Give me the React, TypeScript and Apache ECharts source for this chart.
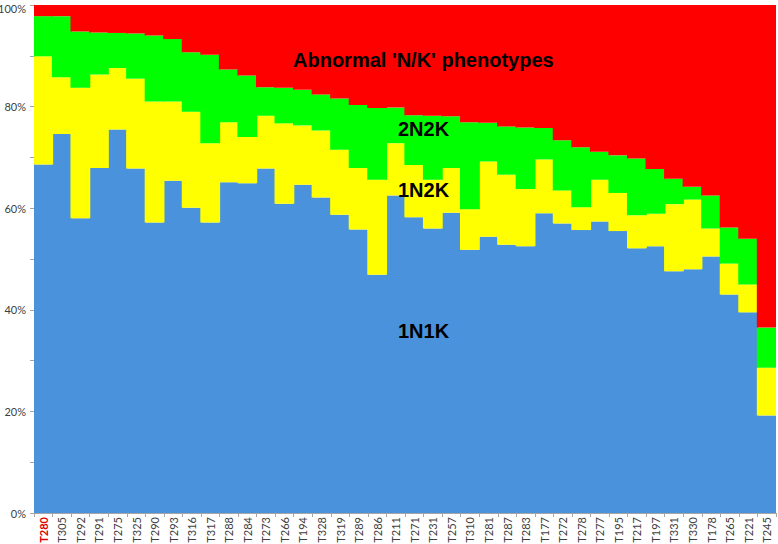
import React, { useEffect, useRef } from "react";
import * as echarts from "echarts";

const categories = [
  "T280", "T305", "T292", "T291", "T275", "T325", "T290", "T293", "T316", "T317",
  "T288", "T284", "T273", "T266", "T194", "T328", "T319", "T289", "T286", "T211",
  "T271", "T231", "T257", "T310", "T281", "T287", "T283", "T177", "T272", "T278",
  "T277", "T195", "T217", "T197", "T331", "T330", "T178", "T265", "T221", "T245",
];

const s1N1K = [
  68.6, 74.6, 58.0, 67.9, 75.5, 67.8, 57.2, 65.4, 60.1, 57.2,
  65.1, 64.9, 67.8, 60.9, 64.6, 62.1, 58.7, 55.8, 46.9, 62.5,
  58.2, 56.0, 59.1, 51.8, 54.4, 52.8, 52.5, 59.0, 57.0, 55.7,
  57.4, 55.5, 52.1, 52.5, 47.6, 48.0, 50.5, 43.0, 39.5, 19.2,
];

const s1N2K = [
  21.3, 11.2, 25.7, 18.4, 12.1, 17.7, 23.8, 15.6, 18.9, 15.6,
  11.8, 9.1, 10.4, 15.8, 11.7, 13.2, 12.8, 12.1, 18.7, 10.3,
  10.3, 9.6, 8.8, 8.0, 14.8, 13.8, 11.3, 10.6, 6.5, 4.5,
  8.2, 7.5, 6.5, 6.4, 13.2, 13.7, 5.5, 6.1, 5.5, 9.4,
];

const s2N2K = [
  7.9, 12.0, 11.1, 8.3, 6.9, 8.9, 13.0, 12.3, 11.7, 17.4,
  10.4, 12.1, 5.6, 7.0, 7.0, 7.1, 10.1, 12.4, 14.1, 7.0,
  9.8, 12.6, 10.2, 17.1, 7.6, 9.5, 12.1, 6.2, 9.9, 11.8,
  5.5, 7.4, 11.2, 8.8, 5.0, 2.5, 6.5, 7.1, 9.0, 7.9,
];

const sAbnormal = [
  2.2, 2.2, 5.2, 5.4, 5.5, 5.6, 6.0, 6.7, 9.3, 9.8,
  12.7, 13.9, 16.2, 16.3, 16.7, 17.6, 18.4, 19.7, 20.3, 20.2,
  21.7, 21.8, 21.9, 23.1, 23.2, 23.9, 24.1, 24.2, 26.6, 28.0,
  28.9, 29.6, 30.2, 32.3, 34.2, 35.8, 37.5, 43.8, 46.0, 63.5,
];

const highlightCategory = "T280";
const yMax = 100;

const annotations = [
  { text: "Abnormal 'N/K' phenotypes", x: 293, y: 61 },
  { text: "2N2K", x: 398, y: 130 },
  { text: "1N2K", x: 398, y: 191 },
  { text: "1N1K", x: 398, y: 332 },
];

export default function App() {
  const ref = useRef<HTMLDivElement>(null);

  useEffect(() => {
    if (!ref.current) return;
    const chart = echarts.init(ref.current, undefined, { renderer: "svg" });
    const mk = (name: string, data: number[], color: string) => ({
      type: "bar" as const,
      name,
      data,
      stack: "total",
      barWidth: 19.8,
      barGap: "0%",
      emphasis: { disabled: true },
      itemStyle: { color, borderWidth: 0 },
    });
    const labelFont = {
      fontSize: 11,
      fontFamily: "Lato, 'Open Sans', sans-serif",
      color: "#404040",
    };
    chart.setOption({
      animation: false,
      backgroundColor: "#ffffff",
      grid: {
        left: 34,
        right: 2,
        top: 5,
        bottom: 31,
        containLabel: false,
        outerBoundsMode: "none",
      },
      xAxis: {
        type: "category",
        data: categories.map((c) =>
          c === highlightCategory
            ? { value: c, textStyle: { color: "#e00000", fontWeight: "bold" } }
            : c
        ),
        splitLine: { show: false },
        axisLine: { show: true, lineStyle: { color: "#a6a6a6" } },
        axisTick: { show: true, length: 4, lineStyle: { color: "#a6a6a6" } },
        axisLabel: {
          interval: 0,
          rotate: 90,
          margin: 4,
          ...labelFont,
        },
      },
      yAxis: {
        type: "value",
        min: 0,
        max: yMax,
        interval: 20,
        axisLine: { show: true, lineStyle: { color: "#a6a6a6" } },
        axisTick: { show: true, length: 4, lineStyle: { color: "#a6a6a6" } },
        minorTick: { show: true, splitNumber: 2, length: 4, lineStyle: { color: "#a6a6a6" } },
        splitLine: { show: false },
        minorSplitLine: { show: false },
        axisLabel: {
          formatter: (v: number) => (v === yMax ? `{t|${v}%}` : `${v}%`),
          rich: { t: { ...labelFont, padding: [6, 0, 0, 0] } },
          margin: 8,
          ...labelFont,
        },
      },
      series: [
        mk("1N1K", s1N1K, "#4a93dc"),
        mk("1N2K", s1N2K, "#ffff00"),
        mk("2N2K", s2N2K, "#00ff00"),
        mk("Abnormal 'N/K' phenotypes", sAbnormal, "#ff0000"),
      ],
      graphic: annotations.map((a) => ({
        type: "text",
        left: a.x,
        top: a.y - 11,
        z: 100,
        style: {
          text: a.text,
          fill: "#000000",
          font: "bold 20px 'Liberation Sans', Arial, sans-serif",
        },
      })),
    });
    return () => chart.dispose();
  }, []);

  return (
    <div
      ref={ref}
      style={{ position: "fixed", left: 0, top: 0, width: 778, height: 544 }}
    />
  );
}
